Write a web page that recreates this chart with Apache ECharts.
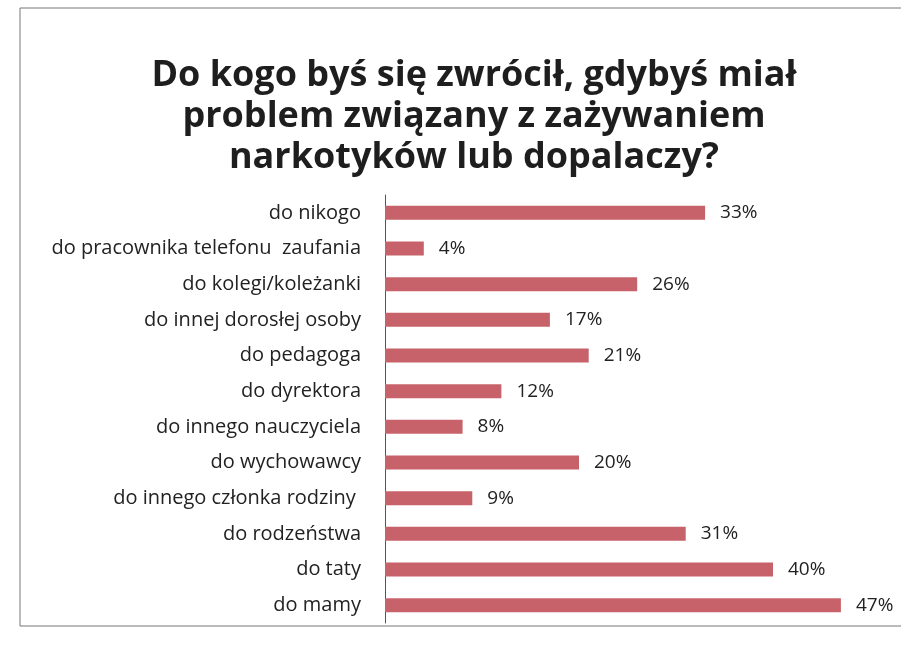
<!DOCTYPE html>
<html>
<head>
<meta charset="utf-8">
<script src="https://cdn.jsdelivr.net/npm/echarts@6/dist/echarts.min.js"></script>
<style>
	html, body { margin: 0; padding: 0; background: #fff; }
	#chart { width: 901px; height: 647px; }
</style>
</head>
<body>
<div id="chart"></div>
<script>
var categories = [
	'do nikogo',
	'do pracownika telefonu  zaufania',
	'do kolegi/koleżanki',
	'do innej dorosłej osoby',
	'do pedagoga',
	'do dyrektora',
	'do innego nauczyciela',
	'do wychowawcy',
	'do innego członka rodziny ',
	'do rodzeństwa',
	'do taty',
	'do mamy'
];
var values = [33, 4, 26, 17, 21, 12, 8, 20, 9, 31, 40, 47];

var chart = echarts.init(document.getElementById('chart'));

var option = {
	backgroundColor: '#fff',
	animation: false,
	title: {
		text: 'Do kogo byś się zwrócił, gdybyś miał\nproblem związany z zażywaniem\nnarkotyków lub dopalaczy?',
		left: 469,
		textAlign: 'center',
		top: 50,
		textStyle: {
			fontFamily: 'Open Sans',
			fontWeight: 'bold',
			fontSize: 36,
			lineHeight: 41,
			color: '#1e1e1e'
		}
	},
	graphic: [
		{
			type: 'rect',
			shape: { x: 20, y: 8, width: 890, height: 618 },
			style: { fill: 'none', stroke: '#777', lineWidth: 1 }
		}
	],
	grid: {
		left: 385,
		top: 195,
		width: 485,
		height: 428
	},
	xAxis: {
		type: 'value',
		min: 0,
		max: 50,
		show: false
	},
	yAxis: {
		type: 'category',
		inverse: true,
		data: categories,
		axisLine: { show: true, lineStyle: { color: '#555', width: 1 } },
		axisTick: { show: false },
		axisLabel: {
			margin: 24,
			fontFamily: 'Open Sans',
			fontSize: 20,
			color: '#222'
		}
	},
	series: [
		{
			type: 'bar',
			data: values,
			barWidth: 14,
			itemStyle: { color: '#c8626a' },
			label: {
				show: true,
				position: 'right',
				distance: 15,
				formatter: '{c}%',
				fontFamily: 'Open Sans',
				fontSize: 19,
				color: '#222'
			}
		}
	]
};

chart.setOption(option);
</script>
</body>
</html>
